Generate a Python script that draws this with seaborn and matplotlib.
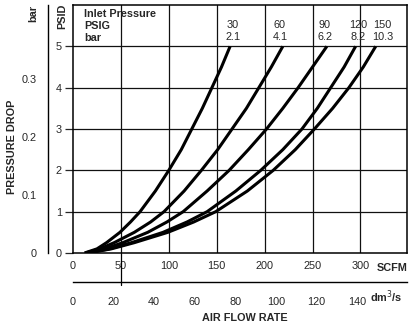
import numpy as np
import pandas as pd
import matplotlib
matplotlib.use("Agg")
import matplotlib.pyplot as plt
import seaborn as sns

# pressure drop (PSID) levels where the curves were read
psid = [0, 0.1, 0.25, 0.5, 0.75, 1, 1.5, 2, 2.5, 3, 3.5, 4, 4.5, 5]

# air flow (SCFM) of each inlet pressure curve at those PSID levels
scfm_30 = [12, 25, 35, 49, 60, 70, 86, 100, 113, 124, 135, 145, 155, 164]
scfm_60 = [13, 28, 43, 64, 81, 95, 116, 134, 151, 166, 181, 194, 207, 219]
scfm_90 = [14, 33, 52, 78, 98, 115, 140, 163, 183, 202, 219, 235, 250, 265]
scfm_120 = [15, 38, 61, 94, 119, 140, 170, 196, 219, 239, 255, 269, 283, 295]
scfm_150 = [16, 40, 64, 99, 126, 149, 182, 209, 232, 252, 271, 288, 303, 316]

inlet_psig = ["30", "60", "90", "120", "150"]
inlet_bar = ["2.1", "4.1", "6.2", "8.2", "10.3"]

scfm_ticks = [0, 50, 100, 150, 200, 250, 300]
dm3_ticks = [0, 20, 40, 60, 80, 100, 120, 140]
psid_ticks = [0, 1, 2, 3, 4, 5]
bar_ticks = [0, 0.1, 0.2, 0.3]

SCFM_PER_DM3 = 2.119
PSI_PER_BAR = 14.0

rows = []
for name, vals in zip(inlet_psig, [scfm_30, scfm_60, scfm_90, scfm_120, scfm_150]):
    for p, q in zip(psid, vals):
        rows.append({"inlet": name, "scfm": q, "psid": p})
df = pd.DataFrame(rows)

sns.set_style("white")
plt.rcParams["font.family"] = ["Liberation Sans", "DejaVu Sans"]
FS = 7.8

fig = plt.figure(figsize=(4.09, 3.28), dpi=100)
W, H = 409, 328
left, right, top, bottom = 73, 407, 5, 253
ax = fig.add_axes([left / W, 1 - bottom / H, (right - left) / W, (bottom - top) / H])

xmax = (right - left) / 0.958
ax.set_xlim(0, xmax)
ax.set_ylim(0, 6)

# grid
for x in scfm_ticks[1:]:
    ax.axvline(x, color="#111111", lw=0.9, zorder=1)
for y in psid_ticks[1:]:
    ax.axhline(y, color="#111111", lw=0.9, zorder=1)

sns.lineplot(data=df, x="scfm", y="psid", hue="inlet", units="inlet",
             estimator=None, sort=False, palette=["black"] * 5,
             lw=2.2, legend=False, ax=ax, zorder=3,
             solid_joinstyle="round", solid_capstyle="butt")

for s in ax.spines.values():
    s.set_color("black")
    s.set_linewidth(1.1)

ax.set_xticks(scfm_ticks)
ax.set_yticks(psid_ticks)
ax.tick_params(axis="x", length=0, pad=6, labelsize=FS)
ax.tick_params(axis="y", length=6, width=0.9, pad=2, labelsize=FS, direction="out", left=True)
ax.set_xlabel("")
ax.set_ylabel("")

# stray line below the 50 SCFM gridline, as in the original
ax.plot([50, 50], [0, -0.78], color="black", lw=0.9, clip_on=False)

# header text
ax.text(12, 5.78, "Inlet Pressure", fontsize=FS, fontweight="bold", va="center")
ax.text(12, 5.49, "PSIG", fontsize=FS, fontweight="bold", va="center")
ax.text(12, 5.20, "bar", fontsize=FS, fontweight="bold", va="center")
label_x = [167, 216, 263, 298, 323]
for lx, a, b in zip(label_x, inlet_psig, inlet_bar):
    ax.text(lx, 5.52, a, fontsize=FS, ha="center", va="center")
    ax.text(lx, 5.23, b, fontsize=FS, ha="center", va="center")

fig.text(62 / W, 1 - 16 / H, "PSID", rotation=90, fontsize=FS,
         fontweight="bold", ha="center", va="center")
fig.text(408 / W, 1 - 268 / H, "SCFM", fontsize=FS,
         fontweight="bold", ha="right", va="center")

# bar axis on the far left
bx = fig.add_axes([48 / W, 1 - bottom / H, 0.001, (bottom - top) / H])
bx.set_ylim(0, 6 / PSI_PER_BAR)
bx.set_yticks(bar_ticks)
bx.set_yticklabels(["0", "0.1", "0.2", "0.3"])
bx.set_xticks([])
for k in ["top", "right", "bottom"]:
    bx.spines[k].set_visible(False)
bx.spines["left"].set_linewidth(1.0)
bx.spines["left"].set_color("black")
bx.tick_params(axis="y", length=6, width=0.9, pad=2, labelsize=FS, direction="out")
bx.patch.set_alpha(0)
fig.text(33 / W, 1 - 13 / H, "bar", rotation=90, fontsize=FS, fontweight="bold",
         ha="center", va="center")
fig.text(12 / W, 1 - 147 / H, "PRESSURE DROP", rotation=90, fontsize=FS,
         fontweight="bold", ha="center", va="center")

# dm3/s axis
dx = fig.add_axes([left / W, 1 - 282 / H, (right - left) / W, 0.001])
dx.set_xlim(0, xmax / SCFM_PER_DM3)
dx.set_xticks(dm3_ticks)
dx.set_yticks([])
for k in ["top", "right", "left"]:
    dx.spines[k].set_visible(False)
dx.spines["bottom"].set_linewidth(1.0)
dx.spines["bottom"].set_color("black")
dx.tick_params(axis="x", length=5, width=0.9, pad=6, labelsize=FS, direction="out")
dx.patch.set_alpha(0)
fig.text(386 / W, 1 - 297 / H, "dm$^{3}$/s", fontsize=FS, fontweight="bold",
         ha="center", va="center")
fig.text(245 / W, 1 - 318 / H, "AIR FLOW RATE", fontsize=FS, fontweight="bold",
         ha="center", va="center")

fig.savefig("out.png", dpi=100)
